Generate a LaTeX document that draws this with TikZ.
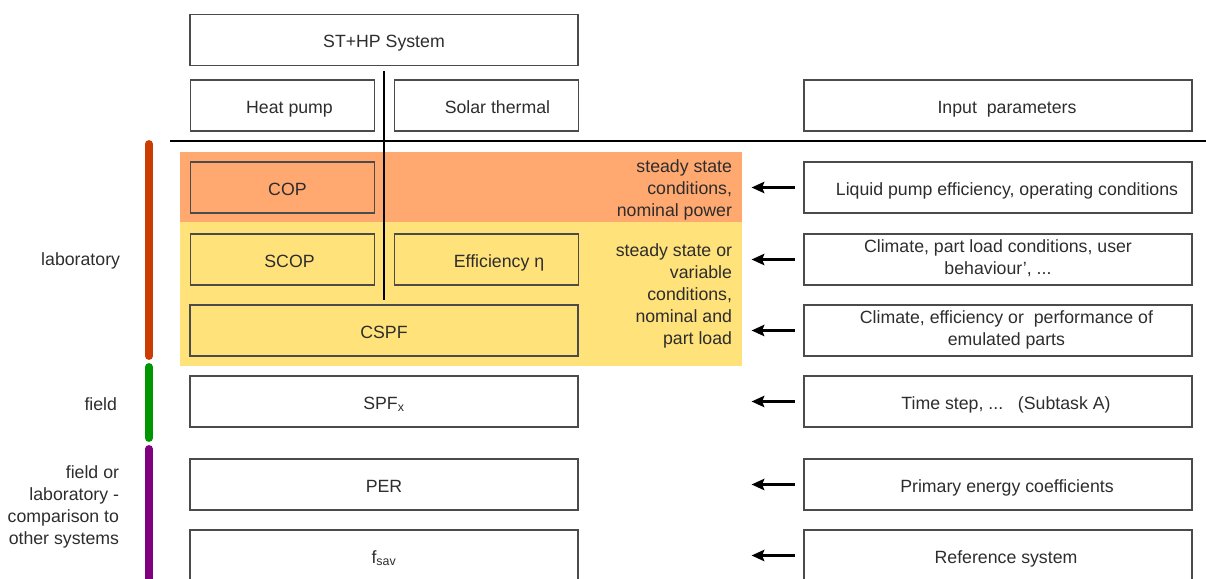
\documentclass[tikz,border=0pt]{standalone}
\usepackage{fontspec}
\setmainfont{Liberation Sans}
\usetikzlibrary{arrows.meta, positioning}
\definecolor{BandOrange}{RGB}{255, 168, 112}
\definecolor{BandYellow}{RGB}{255, 226, 122}
\definecolor{LabRed}{RGB}{204, 60, 0}
\definecolor{FieldGreen}{RGB}{0, 150, 0}
\definecolor{MixPurple}{RGB}{128, 0, 128}
\definecolor{BoxGrey}{RGB}{75, 75, 75}
\definecolor{TextDark}{RGB}{45, 45, 45}
\newlength\boxpad
\tikzset{
  lbl/.style={font=\fontsize{12.6}{15.6}\selectfont, text=TextDark},
  pad/.code={\setlength\boxpad{#1}},
  box/.style={lbl, draw=BoxGrey, line width=0.8pt, minimum height=1.275cm, align=center, inner sep=1pt,
    pad=0pt, execute at begin node={\rule[-3pt]{0pt}{17pt}\hspace*{\boxpad}}},
  wide/.style={box, minimum width=9.7cm},
  half/.style={box, minimum width=4.6cm},
  arr/.style={-{Stealth[length=9pt, width=8pt, inset=1.5pt]}, line width=2.7pt, black},
  bar/.style={line width=5.6pt, line cap=round}
}
\begin{document}
\begin{tikzpicture}[x=0.025cm, y=-0.025cm]
  \useasboundingbox (0,0) rectangle (1206,579);
  \def\Lx{282.5}
  \def\Rx{486.5}
  \def\Cx{384}
  \def\Ix{998}
  % bands
  \fill[BandOrange] (180,152) rectangle (742,222);
  \fill[BandYellow] (180,222) rectangle (742,366);
  % system
  \node[wide] (sys) at (\Cx,40) {ST+HP System};
  \node[half, pad=10pt] (hp) at (\Lx,105.5) {Heat pump};
  \node[half, pad=15.6pt] (st) at (\Rx,105.5) {Solar thermal};
  \node[wide, pad=12.8pt] (inp) at (\Ix,105.5) {Input\ \ parameters};
  \draw[line width=1.3pt] (170,141) -- (1206,141);
  % indicators
  \node[half, pad=7pt] (cop) at (\Lx,187.5) {COP};
  \node[half, pad=10pt] (scop) at (\Lx,259.5) {SCOP};
  \node[half, pad=17.8pt] (eff) at (\Rx,259.5) {Efficiency η};
  \node[wide] (cspf) at (\Cx,330.5) {CSPF};
  \node[wide] (spf) at (\Cx,401.5) {SPF\textsubscript{x}};
  \node[wide] (per) at (\Cx,484.5) {PER};
  \node[wide] (fsav) at (\Cx,555.5) {f\textsubscript{sav}};
  \draw[line width=1.3pt] ([yshift=-0.12cm]sys.south) -- ([yshift=0.12cm]cspf.north);
  % conditions
  \node[lbl, align=right, anchor=east] (cnd1) at (737,190) {steady state\\conditions,\\nominal power};
  \node[lbl, align=right, anchor=east] (cnd2) at (737,296) {steady state or\\variable\\conditions,\\nominal and\\part load};
  % inputs
  \foreach \i/\y/\p/\t in {1/187.5/12.8pt/{Liquid pump efficiency,\ operating conditions},
                           2/259.5/0pt/{Climate, part load conditions, user\\behaviour’, ...},
                           3/330.5/12pt/{Climate,\ efficiency or\ \ performance\ of\\emulated parts},
                           4/401.5/11.4pt/{Time step, ...\ \ \ (Subtask A)},
                           5/484.5/12.8pt/{Primary energy\ coefficients},
                           6/555.5/11.4pt/{Reference system}} {
    \node[wide, pad=\p] (in\i) at (\Ix,\y) {\t};
    \draw[arr] ([xshift=-0.22cm]in\i.west) -- ++(-43,0);
  }
  % scope bars
  \draw[bar, LabRed] (149,144) -- (149,356);
  \draw[bar, FieldGreen] (149,367) -- (149,438);
  \draw[bar, MixPurple] (149,449) -- (149,590);
  \node[lbl, anchor=east] (lab) at (125,261) {laboratory};
  \node[lbl, anchor=east] (fld) at (122,404) {field};
  \node[lbl, align=right, anchor=east] (cmp) at (124,507) {field or\\laboratory -\\comparison to\\other systems};
\end{tikzpicture}
\end{document}
